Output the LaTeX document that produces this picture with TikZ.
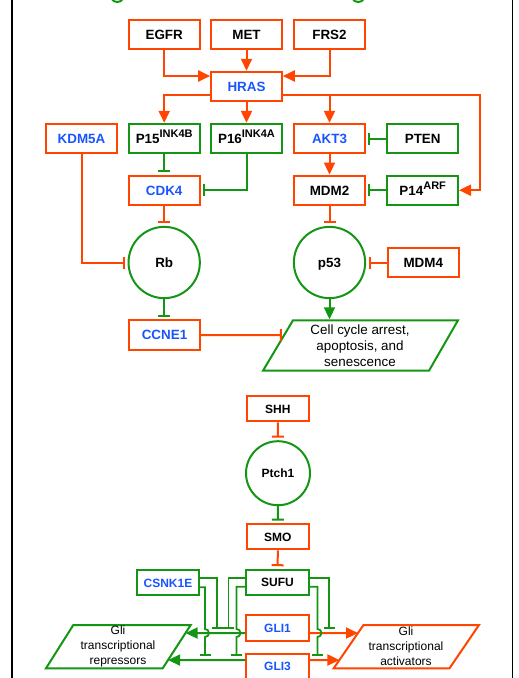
\documentclass[tikz,border=0pt]{standalone}
\usepackage{fontspec}
\setmainfont{Liberation Sans}
\usetikzlibrary{arrows.meta,calc}
\definecolor{cred}{RGB}{255,69,0}
\definecolor{cgrn}{RGB}{20,150,20}
\definecolor{cblu}{RGB}{25,85,255}
\newcommand{\upsup}[1]{\raisebox{5.7pt}{\fontsize{11}{11}\selectfont\bfseries #1}}
\begin{document}
\begin{tikzpicture}[x=1pt,y=-1pt,
  box/.style={draw, line width=2pt, minimum width=70.6pt, minimum height=29.3pt, inner sep=0pt,
    text height=9.6pt, text depth=0pt, font=\fontsize{13.4}{16}\selectfont\bfseries},
  rbox/.style={box, draw=cred},
  gbox/.style={box, draw=cgrn},
  circ/.style={circle, draw=cgrn, line width=2pt, minimum size=71.3pt, inner sep=0pt,
    text height=9.6pt, text depth=0pt, font=\fontsize{13.4}{16}\selectfont\bfseries},
  lbox/.style={draw, line width=2pt, minimum width=62.3pt, minimum height=25.3pt, inner sep=0pt,
    text height=8.6pt, text depth=0pt, font=\fontsize{12}{14}\selectfont\bfseries},
  lrbox/.style={lbox, draw=cred},
  lgbox/.style={lbox, draw=cgrn},
  lcirc/.style={circle, draw=cgrn, line width=2pt, minimum size=64pt, inner sep=0pt,
    text height=8.6pt, text depth=0pt, font=\fontsize{12}{14}\selectfont\bfseries},
  ract/.style={draw=cred, line width=2pt, -{Triangle[length=12pt,width=11pt]}},
  gact/.style={draw=cgrn, line width=2pt, -{Triangle[length=12pt,width=11pt]}},
  rinh/.style={draw=cred, line width=2pt, -{Bar[width=12pt]}, shorten >=2.5pt},
  ginh/.style={draw=cgrn, line width=2pt, -{Bar[width=12pt]}, shorten >=2.5pt},
  glin/.style={draw=cgrn, line width=1.8pt, -{Bar[width=11pt]}},
]
\useasboundingbox (0,0) rectangle (519,678);
\clip (0,0) rectangle (519,678);

% frame and title fragments
\draw[line width=1.3pt] (12,-2) -- (12,680);
\draw[line width=1.3pt] (512.3,-2) -- (512.3,680);
\draw[cgrn, line width=2pt] (111.5,-1.5) .. controls (113.5,3.2) and (121,3.2) .. (123,-1.5);
\draw[cgrn, line width=2pt] (352.5,-1.5) .. controls (354.5,3.2) and (362,3.2) .. (364,-1.5);

% upper pathway
\node[rbox] (EGFR) at (164.2,34.7) {EGFR};
\node[rbox] (MET) at (246.5,34.7) {MET};
\node[rbox] (FRS2) at (329.5,34.7) {FRS2};
\node[rbox, text=cblu] (HRAS) at (246.5,86.4) {HRAS};
\node[rbox, text=cblu] (KDM5A) at (81.5,138.5) {KDM5A};
\node[gbox] (P15) at (164.2,138.5) {P15\upsup{INK4B}};
\node[gbox] (P16) at (246.5,138.5) {P16\upsup{INK4A}};
\node[rbox, text=cblu] (AKT3) at (329.5,138.5) {AKT3};
\node[gbox] (PTEN) at (422.7,138.5) {PTEN};
\node[rbox, text=cblu] (CDK4) at (164.2,190.2) {CDK4};
\node[rbox] (MDM2) at (329.5,190.2) {MDM2};
\node[gbox] (P14) at (422.7,190.2) {P14\upsup{ARF}};
\node[circ] (Rb) at (164.2,262.5) {Rb};
\node[circ] (p53) at (329.5,262.5) {p53};
\node[rbox] (MDM4) at (423.3,262.5) {MDM4};
\node[rbox, text=cblu] (CCNE1) at (164.5,335) {CCNE1};

\draw[cgrn, line width=2pt] (263,370.7) coordinate (paBL) -- (293,320.3) coordinate (paTL)
  -- (458,320.3) coordinate (paTR) -- (429,370.7) coordinate (paBR) -- cycle;
\node[align=center, font=\fontsize{13.4}{16}\selectfont] (para) at (360,345.5)
  {Cell cycle arrest,\\apoptosis, and\\senescence};

\draw[ract] (EGFR.south) |- ([yshift=10.4pt]HRAS.west);
\draw[ract] (MET.south) -- (HRAS.north);
\draw[ract] (FRS2.south) |- ([yshift=10.4pt]HRAS.east);
\draw[ract] ([yshift=-8.6pt]HRAS.west) -| (P15.north);
\draw[ract] (HRAS.south) -- (P16.north);
\draw[ract] ([yshift=-8.6pt]HRAS.east) -| (AKT3.north);
\draw[ract] ([yshift=-8.6pt]HRAS.east) -| ([xshift=21pt]P14.east) -- (P14.east);

\draw[ginh] (P15.south) -- (CDK4.north);
\draw[ginh] (P16.south) |- (CDK4.east);
\draw[rinh] (CDK4.south) -- (Rb.north);
\draw[rinh] (KDM5A.south) |- (Rb.west);
\draw[ginh] (PTEN.west) -- (AKT3.east);
\draw[ract] (AKT3.south) -- (MDM2.north);
\draw[ginh] (P14.west) -- (MDM2.east);
\draw[rinh] (MDM2.south) -- (p53.north);
\draw[rinh] (MDM4.west) -- (p53.east);
\draw[ginh] (Rb.south) -- (Rb.south |- CCNE1.north);
\draw[gact] (p53.south) -- ([yshift=1pt]p53.south |- paTL);
\draw[rinh] (CCNE1.east) -- (intersection of CCNE1.east--CCNE1.west and paBL--paTL);

% lower pathway
\node[lrbox] (SHH) at (277.9,408.7) {SHH};
\node[lcirc] (Ptch1) at (278,473.2) {Ptch1};
\node[lrbox] (SMO) at (277.9,536.7) {SMO};
\node[lgbox] (SUFU) at (277.5,582.3) {SUFU};
\node[lgbox, text=cblu] (CSNK1E) at (168,582.8) {CSNK1E};
\node[lrbox, text=cblu] (GLI1) at (277.5,628) {GLI1};
\node[lrbox, text=cblu] (GLI3) at (277.5,666.5) {GLI3};

\draw[cgrn, line width=2pt] (46,668.3) coordinate (rBL) -- (73.3,625) coordinate (rTL)
  -- (190.7,625) coordinate (rTR) -- (162.7,668.3) coordinate (rBR) -- cycle;
\node[align=center, font=\fontsize{12}{15}\selectfont] (rep) at (118,646.7)
  {Gli\\transcriptional\\repressors};
\draw[cred, line width=2pt] (333.7,668.3) coordinate (aBL) -- (363.5,625) coordinate (aTL)
  -- (479,625) coordinate (aTR) -- (449.5,668.3) coordinate (aBR) -- cycle;
\node[align=center, font=\fontsize{12}{15}\selectfont] (actv) at (406,646.7)
  {Gli\\transcriptional\\activators};

\draw[rinh] (SHH.south) -- (Ptch1.north);
\draw[ginh] (Ptch1.south) -- (SMO.north);
\draw[rinh] (SMO.south) -- (SUFU.north);

\coordinate (g1w) at ([yshift=-5pt]GLI1.west);
\coordinate (g1c) at ([yshift=-5pt]GLI1.center);
\coordinate (g1e) at ([yshift=-5pt]GLI1.east);
\coordinate (g3w) at ([yshift=6.5pt]GLI3.west);
\coordinate (g3c) at ([yshift=6.5pt]GLI3.center);
\coordinate (g3e) at ([yshift=6.5pt]GLI3.east);
\draw[gact] (g1w) -- (intersection of g1w--g1c and rTR--rBR);
\draw[gact] (g3w) -- (intersection of g3w--g3c and rTR--rBR);
\draw[ract] (g1e) -- (intersection of g1e--g1c and aTL--aBL);
\draw[ract] (g3e) -- (intersection of g3e--g3c and aTL--aBL);

% inhibitions of the Gli arrows
\coordinate (t1) at (217.3,629);
\coordinate (t2) at (205,656);
\coordinate (t3) at (228.5,629);
\coordinate (t4) at (236.5,656);
\coordinate (t5) at (329,629);
\coordinate (t6) at (317.5,656);
\draw[glin] ([yshift=4.5pt]CSNK1E.east) -| (t1);
\draw[glin] ([yshift=-4.5pt]CSNK1E.east) -| (205,629) arc[start angle=-90, end angle=90, radius=4] -- (t2);
\draw[glin] ([yshift=4.5pt]SUFU.west) -| (t3);
\draw[glin] ([yshift=-4.5pt]SUFU.west) -| (236.5,629) arc[start angle=-90, end angle=90, radius=4] -- (t4);
\draw[glin] ([yshift=4.5pt]SUFU.east) -| (t5);
\draw[glin] ([yshift=-4.5pt]SUFU.east) -| (317.5,629) arc[start angle=-90, end angle=90, radius=4] -- (t6);
\end{tikzpicture}
\end{document}
